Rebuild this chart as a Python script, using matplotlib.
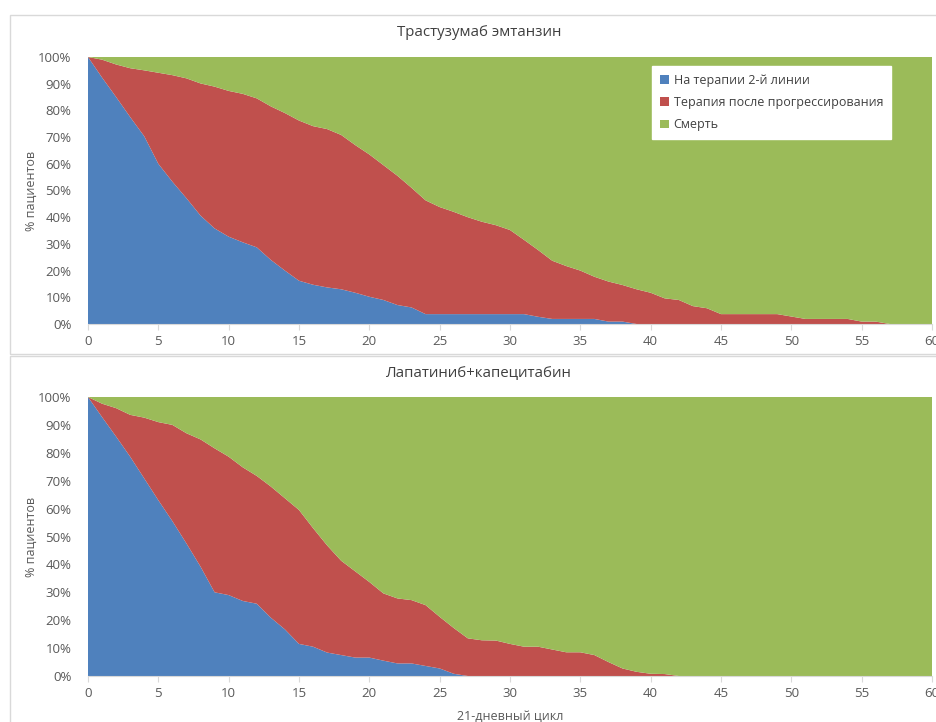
import numpy as np
import matplotlib
matplotlib.use('Agg')
import matplotlib.pyplot as plt
from matplotlib.patches import Patch, Rectangle

plt.rcParams['font.family'] = ['Open Sans', 'DejaVu Sans']

cycles = np.arange(0, 61)

# Трастузумаб эмтанзин: % on 2nd-line therapy, and % alive (2nd line + post-progression)
tdm1_second_line = [100, 92.3, 85, 77.5, 70.3, 60, 53.3, 47.1, 40.6, 35.8, 32.7, 30.6, 28.7, 24, 20, 16.2,
                    14.7, 13.7, 13, 11.7, 10.2, 9, 7.1, 6.2, 3.7, 3.7, 3.7, 3.7, 3.7, 3.7, 3.7, 3.7, 2.7,
                    1.9, 1.9, 1.9, 1.9, 0.9, 0.9, 0, 0, 0, 0, 0, 0, 0, 0, 0, 0, 0, 0, 0, 0, 0, 0, 0, 0,
                    0, 0, 0, 0]
tdm1_alive = [100, 99, 97.2, 95.8, 95, 94.1, 93.2, 92, 90.1, 88.9, 87.3, 86.2, 84.5, 81.5, 79, 76.2, 74.1,
              73, 70.8, 67, 63.5, 59.5, 55.5, 51, 46.3, 43.8, 42, 40, 38.3, 37, 35.2, 31.5, 27.7, 23.7,
              21.7, 20, 17.7, 15.9, 14.6, 13, 11.7, 9.6, 9, 6.7, 5.9, 3.7, 3.7, 3.7, 3.7, 3.7, 2.8, 1.9,
              1.9, 1.9, 1.9, 0.9, 0.9, 0, 0, 0, 0]

# Лапатиниб+капецитабин
lap_second_line = [100, 92.8, 85.8, 78.6, 70.8, 63, 55.5, 47.5, 39.2, 30, 29, 26.9, 25.9, 20.9, 16.7, 11.5,
                   10.5, 8.4, 7.5, 6.6, 6.6, 5.5, 4.5, 4.5, 3.6, 2.7, 0.8, 0, 0, 0, 0, 0, 0, 0, 0, 0, 0,
                   0, 0, 0, 0, 0, 0, 0, 0, 0, 0, 0, 0, 0, 0, 0, 0, 0, 0, 0, 0, 0, 0, 0, 0]
lap_alive = [100, 97.6, 96, 93.6, 92.6, 91, 90, 87, 84.8, 81.6, 78.6, 74.8, 71.7, 67.9, 63.7, 59.5, 53,
             46.8, 41.3, 37.5, 33.7, 29.6, 27.8, 27.2, 25.4, 21.2, 17.2, 13.5, 12.8, 12.7, 11.5, 10.5,
             10.5, 9.5, 8.5, 8.5, 7.5, 5, 2.7, 1.5, 0.8, 0.7, 0, 0, 0, 0, 0, 0, 0, 0, 0, 0, 0, 0, 0, 0,
             0, 0, 0, 0, 0]

labels = ['На терапии 2-й линии', 'Терапия после прогрессирования', 'Смерть']
colors = ['#4F81BD', '#C0504D', '#9BBB59']
titles = ['Трастузумаб эмтанзин', 'Лапатиниб+капецитабин']

TXT = '#595959'
W, H = 937, 722
fig = plt.figure(figsize=(W / 100, H / 100), dpi=100)

# chart-area frames, as in the two stacked Excel charts
fig.add_artist(Rectangle((10 / W, 1 - 354 / H), 1, 339 / H, transform=fig.transFigure,
                         facecolor='none', edgecolor='#D9D9D9', lw=1))
fig.add_artist(Rectangle((10 / W, -0.05), 1, 1 - 356 / H + 0.05, transform=fig.transFigure,
                         facecolor='none', edgecolor='#D9D9D9', lw=1))


def panel(rect, title, second, alive, title_y, legend=False, xlabel=None):
    second = np.array(second, dtype=float)
    alive = np.array(alive, dtype=float)
    ax = fig.add_axes(rect)
    ax.stackplot(cycles, second, alive - second, 100 - alive, colors=colors, lw=0)
    ax.set_xlim(0, 60); ax.set_ylim(0, 100)
    ax.set_xticks(range(0, 61, 5))
    ax.set_yticks(range(0, 101, 10))
    ax.set_yticklabels([f'{v}%' for v in range(0, 101, 10)])
    for s in ['top', 'right', 'left']:
        ax.spines[s].set_visible(False)
    ax.spines['bottom'].set_color('#D9D9D9')
    ax.tick_params(axis='x', colors='#D9D9D9', labelcolor=TXT, labelsize=9.5, length=4, pad=4)
    ax.tick_params(axis='y', length=0, labelcolor=TXT, labelsize=9.5, pad=12)
    ax.set_ylabel('% пациентов', color=TXT, fontsize=9, labelpad=0)
    fig.text(479 / W, 1 - title_y / H, title, ha='center', va='center', fontsize=10.8, color='#404040')
    if xlabel:
        ax.set_xlabel(xlabel, color=TXT, fontsize=9, labelpad=7)
    if legend:
        handles = [Patch(facecolor=c, label=l) for c, l in zip(colors, labels)]
        leg = ax.legend(handles=handles, loc='upper right', bbox_to_anchor=(0.951, 0.966),
                        fontsize=9, frameon=True, fancybox=False, borderaxespad=0,
                        handlelength=0.7, handleheight=0.7, handletextpad=0.4,
                        labelspacing=0.75, borderpad=0.6, labelcolor='#404040')
        leg.get_frame().set_facecolor('white')
        leg.get_frame().set_edgecolor('white')
        leg.get_frame().set_alpha(1)
    return ax


panel([88 / W, 1 - 324 / H, 844 / W, 267 / H], titles[0], tdm1_second_line, tdm1_alive, 33, legend=True)
panel([88 / W, 1 - 676 / H, 844 / W, 279 / H], titles[1], lap_second_line, lap_alive, 374,
      xlabel='21-дневный цикл')

fig.savefig('out.png', dpi=100)
